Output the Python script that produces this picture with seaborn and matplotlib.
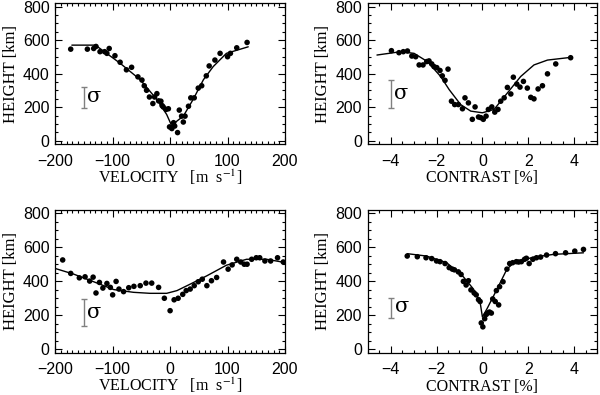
import numpy as np
import matplotlib
matplotlib.use("Agg")
import matplotlib.pyplot as plt
from matplotlib.ticker import MultipleLocator
import seaborn as sns
import pandas as pd

# panel a: velocity, upper
vel_a_x = [-173, -144, -133, -129, -122, -114, -110, -106, -96, -87, -76, -67, -56, -49, -45, -41,
           -36, -30, -27, -23, -20, -16, -14, -12, -7, -3, -1, 3, 6, 8, 13, 16, 20, 23, 26, 32, 36,
           42, 49, 55, 63, 68, 78, 87, 100, 105, 116, 134]
vel_a_y = [546, 546, 550, 562, 531, 531, 521, 550, 507, 468, 423, 438, 381, 362, 328, 301,
           261, 222, 261, 281, 238, 236, 210, 202, 187, 191, 83, 73, 108, 88, 49, 183, 147, 112,
           147, 206, 256, 256, 314, 328, 387, 446, 481, 521, 501, 521, 554, 586]
vel_a_fx = [-171, -130, -87, -52, -23, -6, 3, 12, 23, 40, 58, 75, 98, 136]
vel_a_fy = [570, 570, 462, 364, 246, 157, 88, 118, 147, 246, 364, 442, 521, 560]

# panel b: contrast, upper
con_b_x = [-3.97, -3.64, -3.45, -3.27, -3.08, -2.91, -2.76, -2.59, -2.43, -2.33, -2.21, -2.11,
           -1.99, -1.85, -1.75, -1.63, -1.50, -1.35, -1.21, -1.05, -0.87, -0.76, -0.61, -0.44,
           -0.32, -0.17, -0.07, 0.04, 0.16, 0.26, 0.41, 0.54, 0.68, 0.80, 0.95, 1.09, 1.24, 1.35,
           1.50, 1.64, 1.79, 1.96, 2.11, 2.25, 2.43, 2.62, 2.84, 3.20, 3.85]
con_b_y = [537, 525, 531, 535, 505, 501, 452, 452, 472, 476, 458, 442, 436, 419, 387, 360, 427,
           236, 216, 216, 191, 256, 226, 128, 202, 142, 138, 128, 147, 187, 202, 171, 187, 236,
           256, 318, 279, 379, 338, 320, 354, 314, 259, 250, 309, 328, 399, 458, 495]
con_b_fx = [-4.6, -3.56, -2.98, -2.4, -1.82, -1.45, -0.95, -0.51, 0.0, 0.51, 1.09, 1.67, 2.25, 2.84, 3.85]
con_b_fy = [511, 531, 521, 472, 383, 305, 216, 177, 167, 187, 285, 383, 452, 481, 497]

# panel c: velocity, lower
vel_c_x = [-187, -173, -158, -148, -140, -134, -129, -123, -117, -110, -104, -100, -94, -89, -81,
           -72, -63, -52, -42, -32, -20, -10, 0, 7, 14, 22, 28, 35, 42, 49, 56, 64, 72, 81, 93,
           101, 108, 116, 123, 129, 134, 142, 150, 156, 165, 175, 187, 197]
vel_c_y = [525, 446, 420, 426, 401, 424, 331, 393, 360, 387, 364, 320, 399, 354, 339, 362, 370,
           374, 389, 389, 364, 300, 227, 291, 300, 323, 345, 354, 374, 397, 412, 374, 403, 422,
           513, 471, 496, 529, 513, 500, 500, 529, 538, 538, 519, 519, 538, 513]
vel_c_fx = [-200, -168, -133, -98, -64, -35, -6, 12, 35, 64, 98, 133, 168, 200]
vel_c_fy = [475, 442, 397, 351, 335, 329, 329, 345, 383, 432, 494, 529, 529, 510]

# panel d: contrast, lower
con_d_x = [-3.28, -2.84, -2.46, -2.21, -2.00, -1.85, -1.63, -1.45, -1.31, -1.22, -1.05, -0.93,
           -0.83, -0.71, -0.61, -0.50, -0.36, -0.27, -0.17, -0.10, -0.05, 0.02, 0.10, 0.17, 0.26,
           0.31, 0.39, 0.45, 0.56, 0.61, 0.71, 0.75, 0.90, 1.07, 1.19, 1.32, 1.48, 1.58, 1.70,
           1.84, 1.92, 2.04, 2.20, 2.36, 2.54, 2.80, 3.19, 3.63, 4.03, 4.41]
con_d_y = [548, 544, 538, 533, 519, 515, 504, 480, 471, 467, 455, 440, 399, 378, 403, 349, 331,
           320, 292, 281, 155, 132, 180, 205, 215, 219, 213, 296, 281, 345, 261, 368, 397, 471,
           504, 509, 515, 513, 515, 529, 535, 504, 529, 538, 542, 554, 562, 567, 577, 587]
con_d_fx = [-3.28, -2.44, -1.56, -0.83, -0.39, -0.10, 0.0, 0.2, 0.64, 1.07, 1.37, 2.24, 3.12, 4.41]
con_d_fy = [562, 548, 509, 426, 354, 277, 190, 238, 354, 471, 509, 542, 558, 567]

# sigma bars: x, y bottom, y top, text x, text y
sigma_a = (-149, 193, 320, -132, 262)
sigma_b = (-4.0, 193, 364, -3.55, 284)
sigma_c = (-149, 136, 296, -132, 214)
sigma_d = (-4.0, 186, 302, -3.5, 252)

sns.set_style("white")
plt.rcParams["font.family"] = ["Liberation Sans", "DejaVu Sans"]
plt.rcParams["mathtext.fontset"] = "stix"
plt.rcParams["text.color"] = "black"
plt.rcParams["axes.labelcolor"] = "black"
plt.rcParams["xtick.color"] = "black"
plt.rcParams["ytick.color"] = "black"

fig = plt.figure(figsize=(6.0, 3.95), dpi=100)
pos = [[0.092, 0.635, 0.383, 0.357], [0.613, 0.635, 0.382, 0.357],
       [0.092, 0.107, 0.383, 0.362], [0.613, 0.107, 0.382, 0.362]]

panels = [
    (vel_a_x, vel_a_y, vel_a_fx, vel_a_fy, sigma_a, "vel"),
    (con_b_x, con_b_y, con_b_fx, con_b_fy, sigma_b, "con"),
    (vel_c_x, vel_c_y, vel_c_fx, vel_c_fy, sigma_c, "vel"),
    (con_d_x, con_d_y, con_d_fx, con_d_fy, sigma_d, "con"),
]

serif = ["Liberation Serif", "DejaVu Serif"]

for p, (px, py, fx, fy, sig, kind) in zip(pos, panels):
    ax = fig.add_axes(p)
    pts = pd.DataFrame({"x": px, "y": py})
    fit = pd.DataFrame({"x": fx, "y": fy})
    sns.lineplot(data=fit, x="x", y="y", ax=ax, color="black", lw=1.0,
                 estimator=None, sort=False)
    sns.scatterplot(data=pts, x="x", y="y", ax=ax, color="black", s=16,
                    edgecolor="none", zorder=3)
    # sigma error bar
    ax.errorbar([sig[0]], [(sig[1] + sig[2]) / 2], yerr=[(sig[2] - sig[1]) / 2],
                color="#808080", lw=1.0, capsize=2.5, capthick=1.0)
    ax.text(sig[3], sig[4], "σ", fontsize=15, family=["DejaVu Serif"],
            ha="center", va="center")

    ax.set_ylim(-20, 820)
    ax.yaxis.set_major_locator(MultipleLocator(200))
    ax.yaxis.set_minor_locator(MultipleLocator(50))
    if kind == "vel":
        ax.set_xlim(-200, 200)
        ax.xaxis.set_major_locator(MultipleLocator(100))
        ax.xaxis.set_minor_locator(MultipleLocator(10))
        ax.set_xlabel("VELOCITY   [m  s$^{-1}$]", family=serif, fontsize=11.5, labelpad=-1)
    else:
        ax.set_xlim(-5, 5)
        ax.xaxis.set_major_locator(MultipleLocator(2))
        ax.xaxis.set_minor_locator(MultipleLocator(0.5))
        ax.set_xlabel("CONTRAST [%]", family=serif, fontsize=11.5, labelpad=1)
    ax.set_ylabel("HEIGHT [km]", family=serif, fontsize=12, labelpad=3)

    ax.tick_params(which="both", direction="in", top=True, right=True,
                   bottom=True, left=True, color="black", width=0.8)
    ax.tick_params(which="major", length=5, labelsize=11.5)
    ax.tick_params(axis="x", which="major", pad=7)
    ax.tick_params(axis="y", which="major", pad=4)
    ax.tick_params(which="minor", length=2.5)
    for s in ax.spines.values():
        s.set_color("black")
        s.set_linewidth(0.9)

fig.savefig("out.png", dpi=100)
